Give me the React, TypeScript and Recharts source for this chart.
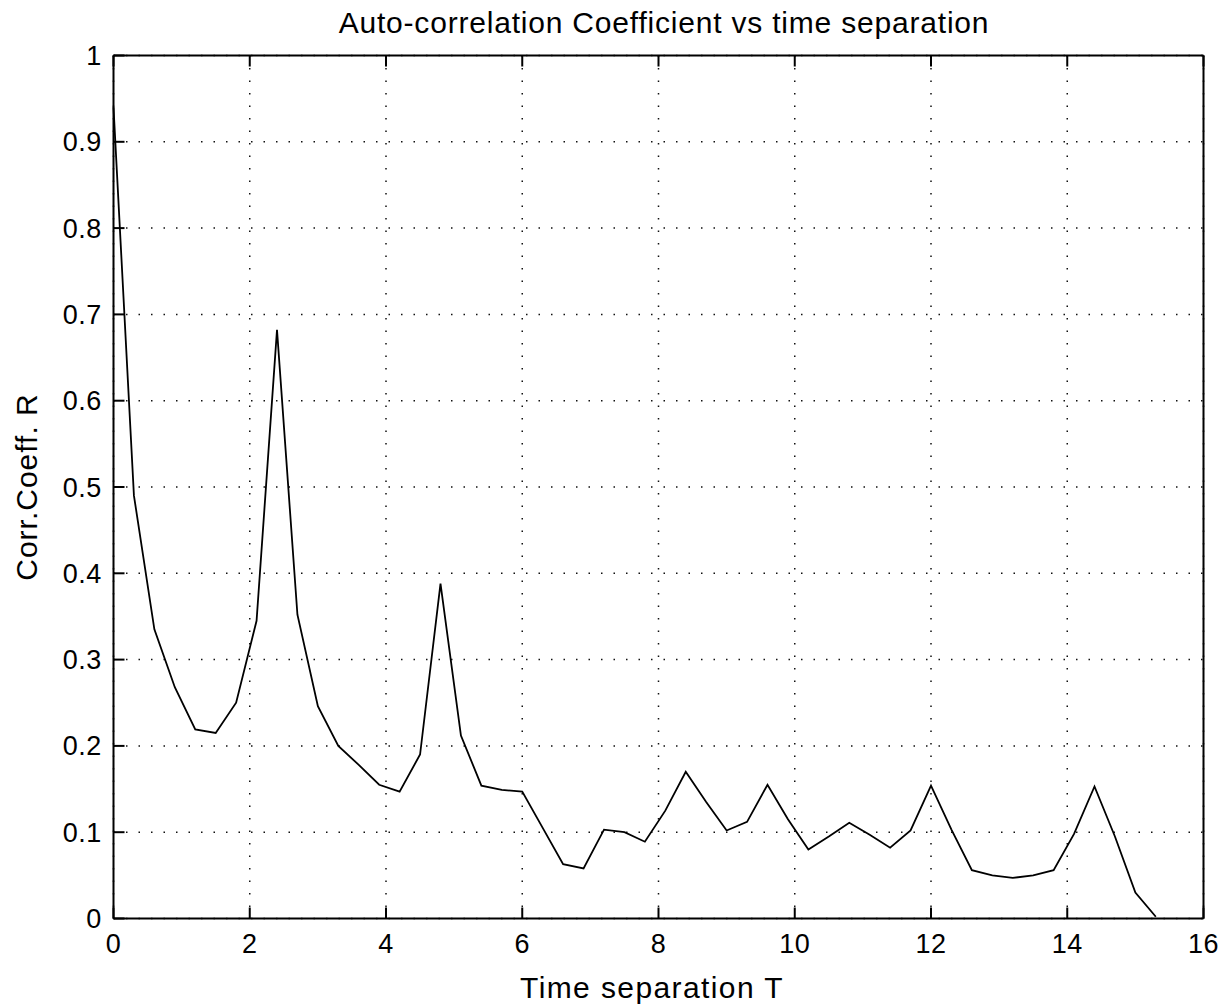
import { LineChart, Line, XAxis, YAxis, CartesianGrid } from 'recharts'

// time separation T, sampled every 0.3
const timeSep = [
  0, 0.3, 0.6, 0.9, 1.2, 1.5, 1.8, 2.1, 2.4, 2.7,
  3.0, 3.3, 3.6, 3.9, 4.2, 4.5, 4.8, 5.1, 5.4, 5.7,
  6.0, 6.3, 6.6, 6.9, 7.2, 7.5, 7.8, 8.1, 8.4, 8.7,
  9.0, 9.3, 9.6, 9.9, 10.2, 10.5, 10.8, 11.1, 11.4, 11.7,
  12.0, 12.3, 12.6, 12.9, 13.2, 13.5, 13.8, 14.1, 14.4, 14.7,
  15.0, 15.3,
]

// auto-correlation coefficient R at each separation
const corrCoeff = [
  0.94, 0.49, 0.335, 0.268, 0.219, 0.215, 0.25, 0.345, 0.682, 0.352,
  0.246, 0.2, 0.178, 0.155, 0.147, 0.19, 0.388, 0.212, 0.154, 0.149,
  0.147, 0.105, 0.063, 0.058, 0.103, 0.1, 0.089, 0.125, 0.17, 0.135,
  0.102, 0.112, 0.155, 0.115, 0.08, 0.095, 0.111, 0.097, 0.082, 0.102,
  0.154, 0.103, 0.056, 0.05, 0.047, 0.05, 0.056, 0.098, 0.153, 0.095,
  0.03, 0.002,
]

const xTicks = [0, 2, 4, 6, 8, 10, 12, 14, 16]
const yTicks = [0, 0.1, 0.2, 0.3, 0.4, 0.5, 0.6, 0.7, 0.8, 0.9, 1]

const data = timeSep.map((t, i) => ({ t, r: corrCoeff[i] }))

const FONT = '"Liberation Sans", Arial, sans-serif'
const frame = { stroke: '#000', strokeWidth: 2 }
const tickStyle = { fontSize: 27, fill: '#000', fontFamily: FONT, letterSpacing: 0.5 }

export default function App() {
  return (
    <div style={{ position: 'absolute', left: 0, top: 0, width: 1226, height: 1004, background: '#fff' }}>
      <div
        style={{
          position: 'absolute',
          left: 0,
          width: 1328,
          top: 7,
          textAlign: 'center',
          fontFamily: FONT,
          fontSize: 30,
          lineHeight: '32px',
          letterSpacing: 0.8,
          color: '#000',
        }}
      >
        Auto-correlation Coefficient vs time separation
      </div>
      <LineChart
        width={1226}
        height={1004}
        data={data}
        margin={{ top: 54.5, right: 21.5, bottom: 0, left: 0 }}
      >
        <CartesianGrid stroke="#111" strokeWidth={1.5} strokeDasharray="1.5 11" />
        <XAxis
          dataKey="t"
          type="number"
          domain={[0, 16]}
          ticks={xTicks}
          height={85.5}
          tickSize={-11}
          tickMargin={26.5}
          axisLine={frame}
          tickLine={frame}
          tick={tickStyle}
          label={() => (
            <text
              x={652}
              y={998}
              textAnchor="middle"
              fontSize={30}
              fontFamily={FONT}
              letterSpacing={1.4}
              fill="#000"
            >
              Time separation T
            </text>
          )}
        />
        <XAxis
          xAxisId="top"
          orientation="top"
          dataKey="t"
          type="number"
          domain={[0, 16]}
          ticks={xTicks}
          height={1}
          tickSize={-11}
          axisLine={frame}
          tickLine={frame}
          tick={() => <g />}
        />
        <YAxis
          type="number"
          domain={[0, 1]}
          ticks={yTicks}
          width={113.5}
          tickSize={-11}
          tickMargin={22.8}
          axisLine={frame}
          tickLine={frame}
          tick={tickStyle}
          label={({ viewBox }: any) => {
            const cy = viewBox.y + viewBox.height / 2
            return (
              <text
                x={37}
                y={cy}
                transform={`rotate(-90, 37, ${cy})`}
                textAnchor="middle"
                fontSize={30}
                fontFamily={FONT}
                letterSpacing={1}
                fill="#000"
              >
                Corr.Coeff. R
              </text>
            )
          }}
        />
        <YAxis
          yAxisId="right"
          orientation="right"
          type="number"
          domain={[0, 1]}
          ticks={yTicks}
          width={1}
          tickSize={-11}
          axisLine={frame}
          tickLine={frame}
          tick={() => <g />}
        />
        <Line
          type="linear"
          dataKey="r"
          stroke="#000"
          strokeWidth={1.8}
          dot={false}
          isAnimationActive={false}
        />
      </LineChart>
    </div>
  )
}
